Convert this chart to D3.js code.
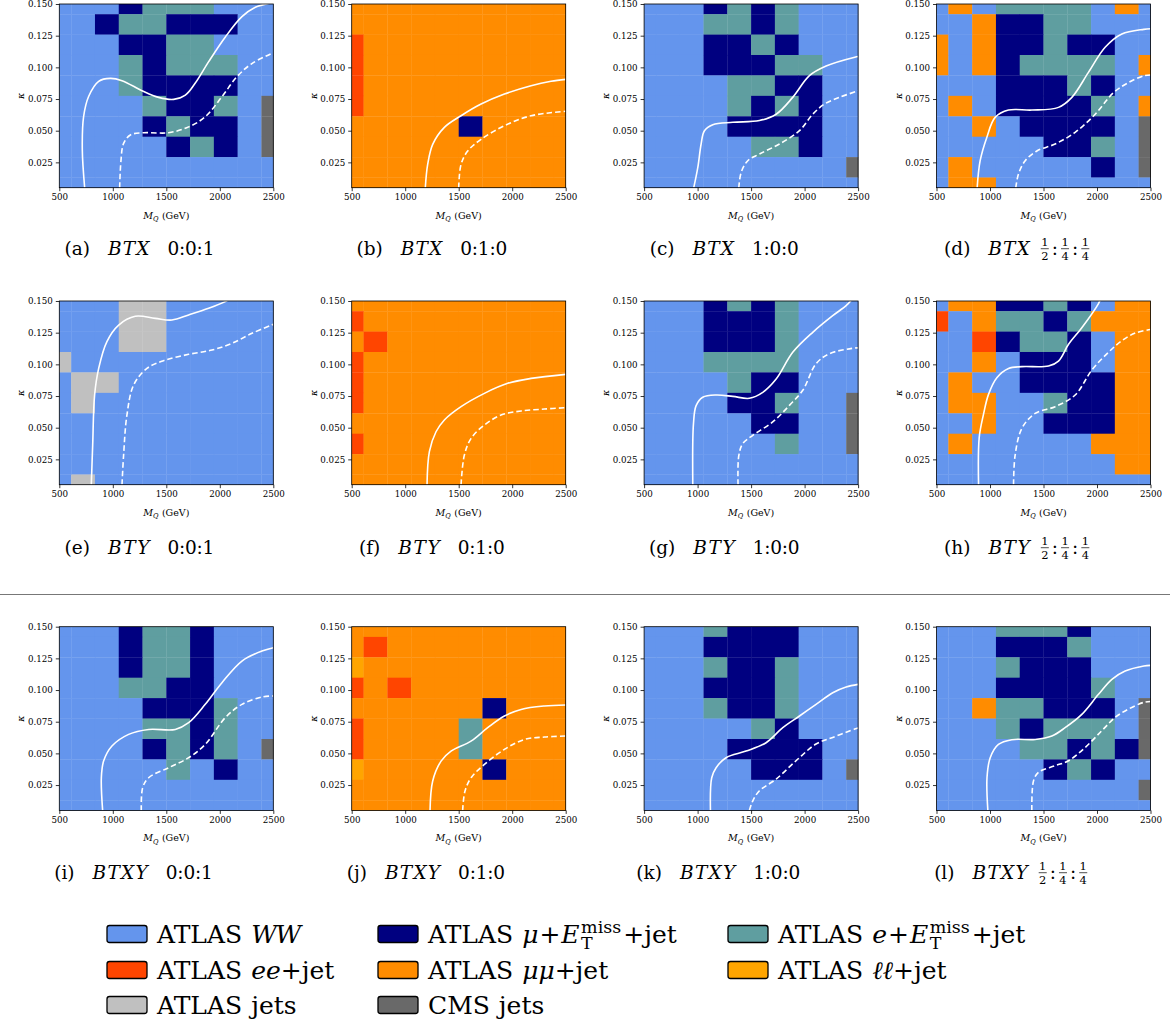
<!DOCTYPE html>
<html><head><meta charset="utf-8">
<script src="https://cdn.jsdelivr.net/npm/d3@7"></script>
<style>body{margin:0;background:#fff;} svg{display:block;} text{font-family:"DejaVu Serif",serif;fill:#000;white-space:pre;}</style>
</head><body><svg id="c" width="1170" height="1023"></svg>
<script>
// ---------- data ----------
const mqCenters = [500, 722.2, 944.4, 1166.7, 1388.9, 1611.1, 1833.3, 2055.6, 2277.8, 2500];
const kappaCenters = [0.15, 0.1339, 0.1178, 0.1017, 0.0856, 0.0694, 0.0533, 0.0372, 0.0211, 0.005]; // top row first
const xTicks = [500, 1000, 1500, 2000, 2500];
const yTicks = [0.025, 0.050, 0.075, 0.100, 0.125, 0.150];

const categoryCodes = ["W", "M", "E", "R", "O", "L", "G", "C"];
const categoryColors = ["#6495ED", "#000080", "#5F9EA0", "#FF4500", "#FF8C00", "#FFA500", "#C0C0C0", "#696969"];

const panelLetters = ["a","b","c","d","e","f","g","h","i","j","k","l"];
const panelModels = ["BTX","BTX","BTX","BTX","BTY","BTY","BTY","BTY","BTXY","BTXY","BTXY","BTXY"];
const panelRatios = ["0:0:1","0:1:0","1:0:0","half","0:0:1","0:1:0","1:0:0","half","0:0:1","0:1:0","1:0:0","half"];

const gridA = ["WWWMEEEWWW","WWMEEMMMWW","WWWMMEEWWW","WWWEMEEEWW","WWWEMMMMWW","WWWWEMMEWC","WWWWMEMMWC","WWWWWMEMWC","WWWWWWWWWW","WWWWWWWWWW"];
const gridB = ["OOOOOOOOOO","OOOOOOOOOO","ROOOOOOOOO","ROOOOOOOOO","ROOOOOOOOO","ROOOOOOOOO","OOOOOMOOOO","OOOOOOOOOO","OOOOOOOOOO","OOOOOOOOOO"];
const gridC = ["WWWMEMEWWW","WWWEEMEWWW","WWWMMEMWWW","WWWMMMEEWW","WWWWEEMMWW","WWWWEMEMWW","WWWWMMMMWW","WWWWWEEMWW","WWWWWWWWWC","WWWWWWWWWW"];
const gridD = ["WOWEEEEWOW","WWOMMEEWWW","OWOMMEMMWW","OWOMEEEEWO","WWWMMMEMWW","WOWMMMMEWO","WWOWMMMMWC","WWWWWMMEWC","WOWWWWWMWC","WOOWWWWWWW"];
const gridE = ["WWWGGWWWWW","WWWGGWWWWW","WWWGGWWWWW","GWWWWWWWWW","WGGWWWWWWW","WGWWWWWWWW","WWWWWWWWWW","WWWWWWWWWW","WWWWWWWWWW","WGWWWWWWWW"];
const gridF = ["OOOOOOOOOO","ROOOOOOOOO","OROOOOOOOO","ROOOOOOOOO","ROOOOOOOOO","ROOOOOOOOO","OOOOOOOOOO","ROOOOOOOOO","OOOOOOOOOO","OOOOOOOOOO"];
const gridG = ["WWWMEMEWWW","WWWMMMEWWW","WWWMMMEWWW","WWWEEEEWWW","WWWWEMMWWW","WWWWMMEWWC","WWWWWMMWWC","WWWWWWEWWC","WWWWWWWWWW","WWWWWWWWWW"];
const gridH = ["WOOMMEMWOO","RWOEEMEOOO","WWRMEEMWOO","WWOWMMMWOO","WOWWMMMMOO","WOOWWEMMOO","WWOWWMMMOO","WOWWWWWOOO","WWWWWWWWOO","WWWWWWWWWW"];
const gridI = ["WWWMEEMWWW","WWWMEEMWWW","WWWMEEMWWW","WWWEEMMWWW","WWWWMMMEWW","WWWWEEMEWW","WWWWMEMEWC","WWWWWEWMWW","WWWWWWWWWW","WWWWWWWWWW"];
const gridJ = ["OOOOOOOOOO","OROOOOOOOO","LOOOOOOOOO","ROROOOOOOO","OOOOOOMOOO","ROOOOEOOOO","ROOOOEOOOO","LOOOOOMOOO","OOOOOOOOOO","OOOOOOOOOO"];
const gridK = ["WWWEMMMWWW","WWWMMMMWWW","WWWEMMEWWW","WWWMMMEWWW","WWWEMMEWWW","WWWWWEMWWW","WWWWMMMMWW","WWWWWMMMWC","WWWWWWWWWW","WWWWWWWWWW"];
const gridL = ["WWWEEEMWWW","WWWMMMEWWW","WWWEMMMWWW","WWWMMMMEWW","WWOEEMMMWC","WWWEMEEEWC","WWWWEEMEMC","WWWWWMEMWW","WWWWWWWWWC","WWWWWWWWWW"];

const solidA = [[737,0.005],[715,0.035],[727,0.061],[774,0.077],[868,0.089],[977,0.0913],[1086,0.0895],[1273,0.0816],[1428,0.0763],[1569,0.0747],[1678,0.078],[1771,0.0876],[1896,0.1045],[2052,0.124],[2207,0.140],[2332,0.1474],[2456,0.1505]];
const dashA = [[1064,0.005],[1076,0.026],[1101,0.040],[1164,0.0466],[1288,0.0484],[1522,0.0484],[1709,0.053],[1864,0.061],[2020,0.0768],[2160,0.0926],[2300,0.103],[2500,0.1115]];
const solidB = [[1188,0.005],[1210,0.0234],[1257,0.0392],[1366,0.0526],[1522,0.0618],[1709,0.071],[1927,0.0789],[2176,0.0855],[2363,0.089],[2500,0.0905]];
const dashB = [[1500,0.005],[1522,0.0234],[1584,0.0339],[1709,0.0432],[1927,0.0539],[2176,0.0618],[2500,0.0653]];
const solidC = [[964,0.005],[1002,0.021],[1033,0.0395],[1064,0.050],[1142,0.0547],[1329,0.0566],[1578,0.058],[1734,0.063],[1889,0.0763],[2045,0.0934],[2201,0.101],[2469,0.108],[2500,0.1085]];
const dashC = [[1385,0.005],[1407,0.017],[1469,0.0263],[1578,0.0316],[1765,0.0395],[1952,0.050],[2076,0.063],[2185,0.071],[2326,0.0763],[2500,0.0815]];
const solidD = [[880,0.005],[908,0.0263],[970,0.0447],[1048,0.0605],[1173,0.0663],[1391,0.0663],[1640,0.0684],[1765,0.0763],[1920,0.096],[2076,0.1158],[2232,0.1263],[2438,0.130],[2500,0.1305]];
const dashD = [[1241,0.005],[1266,0.0158],[1329,0.0263],[1438,0.034],[1609,0.0395],[1796,0.0487],[1983,0.063],[2154,0.080],[2294,0.088],[2438,0.0934],[2500,0.094]];
const solidE = [[799,0.005],[812,0.0363],[830,0.0758],[868,0.0968],[945,0.118],[1055,0.131],[1210,0.1379],[1397,0.1363],[1553,0.135],[1709,0.139],[1896,0.1442],[2051,0.1495],[2080,0.151]];
const dashE = [[1086,0.005],[1101,0.0284],[1132,0.060],[1195,0.0837],[1319,0.0968],[1491,0.1034],[1709,0.1079],[1927,0.1113],[2114,0.1166],[2301,0.1245],[2500,0.1316]];
const solidF = [[1204,0.005],[1226,0.0311],[1288,0.0468],[1366,0.0561],[1522,0.0666],[1740,0.0771],[1958,0.085],[2176,0.0889],[2500,0.0921]];
const dashF = [[1522,0.005],[1553,0.0284],[1616,0.0416],[1740,0.0521],[1896,0.060],[2083,0.0632],[2301,0.0647],[2500,0.0658]];
const solidG = [[955,0.005],[961,0.0526],[986,0.0674],[1048,0.074],[1173,0.0758],[1329,0.0747],[1484,0.0732],[1609,0.0779],[1734,0.0884],[1889,0.1095],[2076,0.1253],[2263,0.1384],[2388,0.1463],[2440,0.151]];
const dashG = [[1378,0.005],[1385,0.0279],[1422,0.0374],[1516,0.044],[1702,0.0545],[1858,0.0676],[1983,0.0795],[2107,0.1005],[2232,0.1084],[2469,0.1129],[2500,0.113]];
const solidH = [[893,0.005],[899,0.0421],[939,0.0605],[986,0.0763],[1064,0.0895],[1173,0.0968],[1298,0.0982],[1547,0.0987],[1640,0.1026],[1734,0.1158],[1858,0.1289],[2014,0.148],[2030,0.151]];
const dashH = [[1220,0.005],[1235,0.0284],[1298,0.0495],[1422,0.0613],[1609,0.0666],[1796,0.0758],[1952,0.0955],[2107,0.1095],[2232,0.1187],[2357,0.1247],[2500,0.1275]];
const solidI = [[905,0.005],[893,0.0308],[914,0.0439],[992,0.0558],[1148,0.065],[1335,0.0689],[1584,0.0689],[1709,0.0742],[1864,0.0887],[2020,0.1058],[2207,0.1229],[2394,0.1308],[2500,0.1334]];
const dashI = [[1266,0.005],[1279,0.0229],[1335,0.0308],[1522,0.0387],[1709,0.0466],[1864,0.0571],[2051,0.0782],[2207,0.0887],[2394,0.0945],[2500,0.0953]];
const solidJ = [[1232,0.005],[1257,0.0282],[1335,0.0439],[1428,0.0518],[1615,0.0597],[1771,0.0703],[1927,0.0795],[2083,0.0847],[2301,0.0874],[2500,0.0882]];
const dashJ = [[1537,0.005],[1559,0.0203],[1616,0.0308],[1740,0.0413],[1927,0.0532],[2114,0.061],[2301,0.0629],[2500,0.0637]];
const solidK = [[1120,0.005],[1132,0.0308],[1173,0.0387],[1266,0.0466],[1453,0.0518],[1640,0.0584],[1796,0.0703],[1952,0.0795],[2107,0.0887],[2263,0.0979],[2388,0.1024],[2500,0.1045]];
const dashK = [[1484,0.005],[1516,0.0126],[1578,0.0205],[1734,0.0297],[1920,0.0442],[2107,0.0574],[2263,0.0626],[2469,0.0692],[2500,0.070]];
const solidL = [[980,0.005],[972,0.0308],[1002,0.0466],[1079,0.0571],[1204,0.0608],[1422,0.061],[1578,0.0637],[1702,0.0703],[1858,0.0808],[2014,0.0966],[2139,0.1084],[2263,0.115],[2438,0.119],[2500,0.1195]];
const dashL = [[1391,0.005],[1407,0.0284],[1453,0.035],[1609,0.0403],[1734,0.0442],[1890,0.0547],[2045,0.0679],[2170,0.0784],[2294,0.085],[2438,0.0903],[2500,0.091]];

const grids = [gridA,gridB,gridC,gridD,gridE,gridF,gridG,gridH,gridI,gridJ,gridK,gridL];
const solids = [solidA,solidB,solidC,solidD,solidE,solidF,solidG,solidH,solidI,solidJ,solidK,solidL];
const dashes = [dashA,dashB,dashC,dashD,dashE,dashF,dashG,dashH,dashI,dashJ,dashK,dashL];

const legendCodes = ["W","M","E","R","O","L","G","C"];

// ---------- layout ----------
const svg = d3.select("#c");
const plotLeft0 = 59.3, colStep = 292.4, plotW = 214, plotH = 183.7;
const rowTops = [4, 301, 626.7];
const captionCx = [139.5, 139.5, 133.5];
const colorOf = d3.scaleOrdinal().domain(categoryCodes).range(categoryColors);

const x = d3.scaleLinear().domain([500, 2500]).range([0, plotW]);
const y = d3.scaleLinear().domain([0.005, 0.15]).range([plotH, 0]);

function edges(centers) {
  const e = [centers[0]];
  for (let i = 0; i < centers.length - 1; i++) e.push((centers[i] + centers[i+1]) / 2);
  e.push(centers[centers.length-1]);
  return e;
}
const xe = edges(mqCenters);
const ye = edges(kappaCenters);

function rich(g, x0, y0, pieces, size) {
  let cx = x0, stackW = 0;
  pieces.forEach(p => {
    if (p.gap) cx += p.gap;
    if (p.frac) {
      const fs = size * 0.62, fw = fs * 0.7;
      g.append("text").attr("x", cx + fw/2).attr("y", y0 - size*0.5).attr("text-anchor","middle").attr("font-size", fs).text(p.num);
      g.append("line").attr("x1", cx).attr("x2", cx + fw).attr("y1", y0 - size*0.34).attr("y2", y0 - size*0.34).attr("stroke","#000").attr("stroke-width",0.7);
      g.append("text").attr("x", cx + fw/2).attr("y", y0 + size*0.29).attr("text-anchor","middle").attr("font-size", fs).text(p.den);
      cx += fw;
      return;
    }
    const t = g.append("text").attr("x", cx).attr("y", y0 + (p.dy || 0) * size)
      .attr("font-size", size * (p.s || 1))
      .attr("font-style", p.i ? "italic" : "normal")
      .text(p.t);
    let w;
    if (p.tl) { t.attr("textLength", p.tl).attr("lengthAdjust", "spacing"); w = p.tl; }
    else w = t.node().getComputedTextLength();
    if (p.stack) { stackW = w; }
    else { cx += Math.max(w, stackW); stackW = 0; }
  });
  return cx - x0;
}

// separator
svg.append("line").attr("x1", 0).attr("x2", 1170).attr("y1", 594.5).attr("y2", 594.5).attr("stroke", "#777").attr("stroke-width", 1);

grids.forEach((grid, pi) => {
  const row = Math.floor(pi / 4), col = pi % 4;
  const ox = plotLeft0 + col * colStep, oy = rowTops[row];
  const g = svg.append("g").attr("transform", `translate(${ox},${oy})`);
  const clipId = "clip" + pi;
  g.append("clipPath").attr("id", clipId).append("rect").attr("width", plotW).attr("height", plotH);

  const cells = [];
  grid.forEach((rowStr, r) => {
    for (let c = 0; c < rowStr.length; c++) cells.push({ r, c, code: rowStr[c] });
  });
  g.append("g").selectAll("rect").data(cells).join("rect")
    .attr("x", d => x(xe[d.c]))
    .attr("width", d => x(xe[d.c+1]) - x(xe[d.c]) + 0.3)
    .attr("y", d => y(ye[d.r]))
    .attr("height", d => y(ye[d.r+1]) - y(ye[d.r]) + 0.3)
    .attr("fill", d => colorOf(d.code));

  const line = d3.line().x(d => x(d[0])).y(d => y(d[1])).curve(d3.curveCatmullRom.alpha(0.5));
  const cg = g.append("g").attr("clip-path", `url(#${clipId})`);
  cg.append("path").attr("d", line(solids[pi])).attr("fill", "none").attr("stroke", "#fff").attr("stroke-width", 1.6);
  cg.append("path").attr("d", line(dashes[pi])).attr("fill", "none").attr("stroke", "#fff").attr("stroke-width", 1.6).attr("stroke-dasharray", "5.5,3");

  // frame
  g.append("rect").attr("width", plotW).attr("height", plotH).attr("fill", "none").attr("stroke", "#000").attr("stroke-width", 0.8);

  // axes
  const ax = g.append("g").attr("transform", `translate(0,${plotH})`)
    .call(d3.axisBottom(x).tickValues(xTicks).tickSize(3.5).tickPadding(3).tickFormat(d3.format("d")));
  const ay = g.append("g").call(d3.axisLeft(y).tickValues(yTicks).tickSize(3.5).tickPadding(3).tickFormat(d3.format(".3f")));
  [ax, ay].forEach(a => {
    a.select(".domain").remove();
    a.selectAll("line").attr("stroke", "#000").attr("stroke-width", 0.8);
    a.selectAll("text").attr("font-size", 8.7).attr("font-family", "DejaVu Serif, serif");
  });

  // x label
  const xl = g.append("g");
  const wx = rich(xl, 0, 0, [{t:"M", i:true}, {t:"Q", i:true, s:0.7, dy:0.25}, {t:"(GeV)", gap:3.5}], 9.5);
  xl.attr("transform", `translate(${plotW/2 - wx/2},${plotH + 31})`);
  // y label
  g.append("text").attr("transform", `translate(-35,${plotH/2}) rotate(-90)`).attr("text-anchor", "middle")
    .attr("font-size", 9.5).attr("font-style", "italic").text("κ");

  // caption
  const cap = svg.append("g");
  const model = panelModels[pi];
  const pieces = [{t:"(" + panelLetters[pi] + ")"}, {t:model, i:true, gap:18, tl: model.length * 13.8}];
  if (panelRatios[pi] === "half") {
    pieces.push({frac:true, num:"1", den:"2", gap:11});
    pieces.push({t:":", gap:3});
    pieces.push({frac:true, num:"1", den:"4", gap:3});
    pieces.push({t:":", gap:3});
    pieces.push({frac:true, num:"1", den:"4", gap:3});
  } else {
    pieces.push({t: panelRatios[pi], gap:18, tl:47});
  }
  const cw = rich(cap, 0, 0, pieces, 18.5);
  const capY = [255, 554, 879][row];
  cap.attr("transform", `translate(${captionCx[row] + col * colStep - cw/2},${capY})`);
});

// ---------- legend ----------
const legendLabels = [
  [{t:"ATLAS"}, {t:"WW", i:true, gap:9, tl:50}],
  [{t:"ATLAS"}, {t:"μ", i:true, gap:9}, {t:"+", gap:1}, {t:"E", i:true, gap:1}, {t:"miss", s:0.7, dy:-0.42, stack:true, gap:1.5}, {t:"T", s:0.7, dy:0.22}, {t:"+jet", gap:2}],
  [{t:"ATLAS"}, {t:"e", i:true, gap:9}, {t:"+", gap:1}, {t:"E", i:true, gap:1}, {t:"miss", s:0.7, dy:-0.42, stack:true, gap:1.5}, {t:"T", s:0.7, dy:0.22}, {t:"+jet", gap:2}],
  [{t:"ATLAS"}, {t:"ee", i:true, gap:9}, {t:"+jet"}],
  [{t:"ATLAS"}, {t:"μμ", i:true, gap:9}, {t:"+jet"}],
  [{t:"ATLAS"}, {t:"ℓℓ", i:true, gap:9}, {t:"+jet"}],
  [{t:"ATLAS"}, {t:"jets", gap:9}],
  [{t:"CMS"}, {t:"jets", gap:9}]
];
const legBoxX = [107, 378, 728];
const legRowY = [934, 970, 1005];
legendCodes.forEach((code, i) => {
  const r = Math.floor(i / 3), c = i % 3;
  const bx = legBoxX[c], cy = legRowY[r];
  svg.append("rect").attr("x", bx).attr("y", cy - 8.5).attr("width", 40).attr("height", 17).attr("rx", 2.5)
    .attr("fill", colorOf(code)).attr("stroke", "#000").attr("stroke-width", 1.3);
  rich(svg.append("g"), bx + 50, cy + 9, legendLabels[i], 25);
});
</script></body></html>
